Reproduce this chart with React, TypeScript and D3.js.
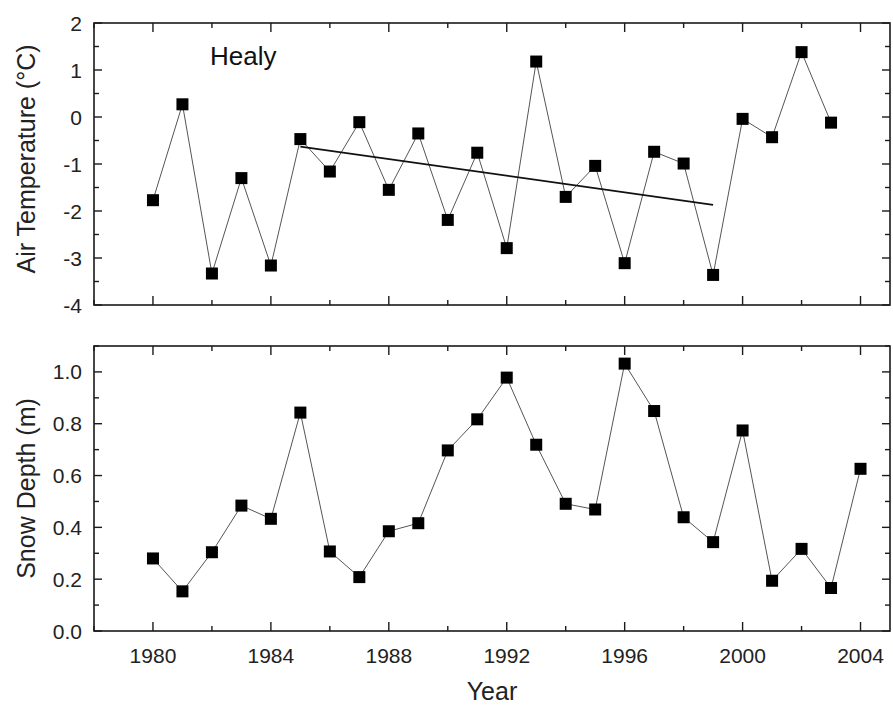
import React from "react";
import * as d3 from "d3";

const tempYears = [1980,1981,1982,1983,1984,1985,1986,1987,1988,1989,1990,1991,1992,1993,1994,1995,1996,1997,1998,1999,2000,2001,2002,2003];
const airTemp = [-1.77,0.27,-3.33,-1.30,-3.16,-0.47,-1.16,-0.11,-1.55,-0.35,-2.19,-0.76,-2.79,1.18,-1.70,-1.04,-3.11,-0.74,-0.99,-3.36,-0.04,-0.43,1.38,-0.12];
const snowYears = [1980,1981,1982,1983,1984,1985,1986,1987,1988,1989,1990,1991,1992,1993,1994,1995,1996,1997,1998,1999,2000,2001,2002,2003,2004];
const snowDepth = [0.28,0.153,0.304,0.484,0.433,0.843,0.307,0.208,0.385,0.416,0.697,0.817,0.978,0.719,0.491,0.469,1.032,0.849,0.439,0.343,0.774,0.194,0.317,0.166,0.626];
const trendYears = [1985, 1999];
const trendValues = [-0.63, -1.87];
const xTickLabels = [1980, 1984, 1988, 1992, 1996, 2000, 2004];
const tempTickLabels = [2, 1, 0, -1, -2, -3, -4];
const snowTickLabels = [0.0, 0.2, 0.4, 0.6, 0.8, 1.0];

const FONT = "'Liberation Sans', Arial, sans-serif";
const W = 893, H = 707;
const L = 94, R = 890;
const top1 = { t: 23, b: 305 };
const top2 = { t: 346, b: 631 };

const x = d3.scaleLinear().domain([1978, 2005]).range([L, R]);
const yT = d3.scaleLinear().domain([-4, 2]).range([top1.b, top1.t]);
const yS = d3.scaleLinear().domain([0, 1.1]).range([top2.b, top2.t]);

const xMinor = d3.range(1978, 2005.01, 2);
const AX = "#1a1a1a";

function Frame({ t, b, y, yMajor, yMinor, fmt, showX }: any) {
  const maj = 9, mn = 5;
  return (
    <g>
      <rect x={L} y={t} width={R - L} height={b - t} fill="none" stroke={AX} strokeWidth={1.6} />
      {xMinor.map((v) => {
        const isMaj = v % 4 === 0;
        const len = isMaj ? maj : mn;
        const px = x(v);
        return (
          <g key={"xt" + v}>
            <line x1={px} x2={px} y1={b} y2={b - len} stroke={AX} strokeWidth={1.4} />
            <line x1={px} x2={px} y1={t} y2={t + len} stroke={AX} strokeWidth={1.4} />
          </g>
        );
      })}
      {yMinor.map((v: number) => {
        const isMaj = yMajor.some((m: number) => Math.abs(m - v) < 1e-6);
        const len = isMaj ? 8 : 5;
        const py = y(v);
        return (
          <g key={"yt" + v}>
            <line x1={L} x2={L + len} y1={py} y2={py} stroke={AX} strokeWidth={1.4} />
            <line x1={R} x2={R - len} y1={py} y2={py} stroke={AX} strokeWidth={1.4} />
          </g>
        );
      })}
      {yMajor.map((v: number) => (
        <text key={"yl" + v} x={82} y={y(v)} dy="0.36em" textAnchor="end" fontSize={21} fontFamily={FONT} fill="#222">
          {fmt(v)}
        </text>
      ))}
      {showX &&
        xTickLabels.map((v) => (
          <text key={"xl" + v} x={x(v)} y={b + 32} textAnchor="middle" fontSize={21} fontFamily={FONT} fill="#222">
            {v}
          </text>
        ))}
    </g>
  );
}

export default function App() {
  const lineT = d3.line<number>().x((_, i) => x(tempYears[i])).y((d) => yT(d));
  const lineS = d3.line<number>().x((_, i) => x(snowYears[i])).y((d) => yS(d));
  const trend = d3.line<number>().x((_, i) => x(trendYears[i])).y((d) => yT(d));
  const sz = 12;
  return (
    <svg width={W} height={H} style={{ position: "fixed", left: 0, top: 0, background: "#fff" }}>
      <rect x={0} y={0} width={W} height={H} fill="#fff" />
      <Frame t={top1.t} b={top1.b} y={yT} yMajor={tempTickLabels} yMinor={d3.range(-4, 2.01, 0.5)} fmt={(v: number) => String(v)} showX={false} />
      <Frame t={top2.t} b={top2.b} y={yS} yMajor={snowTickLabels} yMinor={d3.range(0, 1.101, 0.1).map((v) => Math.round(v * 10) / 10)} fmt={(v: number) => v.toFixed(1)} showX={true} />

      <path d={lineT(airTemp) || ""} fill="none" stroke="#555" strokeWidth={1} />
      <path d={trend(trendValues) || ""} fill="none" stroke="#111" strokeWidth={1.8} />
      {airTemp.map((v, i) => (
        <rect key={"pt" + i} x={x(tempYears[i]) - sz / 2} y={yT(v) - sz / 2} width={sz} height={sz} fill="#000" />
      ))}

      <path d={lineS(snowDepth) || ""} fill="none" stroke="#555" strokeWidth={1} />
      {snowDepth.map((v, i) => (
        <rect key={"ps" + i} x={x(snowYears[i]) - sz / 2} y={yS(v) - sz / 2} width={sz} height={sz} fill="#000" />
      ))}

      <text x={210} y={65} fontSize={26} fontFamily={FONT} fill="#111">Healy</text>

      <text transform={`translate(35,159) rotate(-90)`} textAnchor="middle" fontSize={25} fontFamily={FONT} fill="#222">
        Air Temperature (°C)
      </text>
      <text transform={`translate(35,${(top2.t + top2.b) / 2}) rotate(-90)`} textAnchor="middle" fontSize={25} fontFamily={FONT} fill="#222">
        Snow Depth (m)
      </text>
      <text x={(L + R) / 2} y={700} textAnchor="middle" fontSize={25} fontFamily={FONT} fill="#222">
        Year
      </text>
    </svg>
  );
}
